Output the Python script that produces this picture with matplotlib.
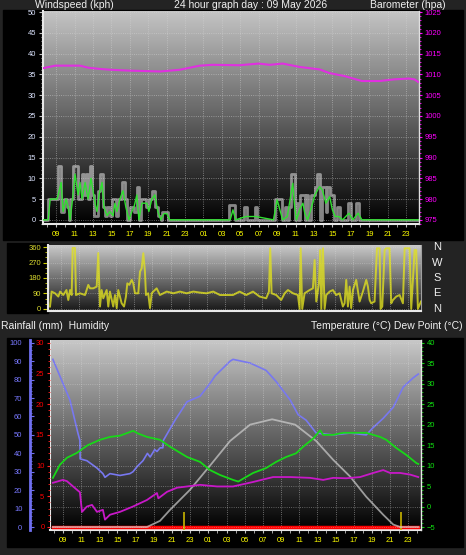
import numpy as np
import matplotlib
matplotlib.use("Agg")
import matplotlib.pyplot as plt
from matplotlib.patches import Rectangle
from matplotlib.colors import LinearSegmentedColormap
from matplotlib.ticker import MultipleLocator, FixedLocator

W, H, DPI = 466, 555, 100
plt.rcParams['font.family'] = ['Liberation Sans', 'DejaVu Sans']

# hours since midnight of the first day (24 = 00 next day)
X0, X1 = 7.58, 48.4
tick_hours = [9, 11, 13, 15, 17, 19, 21, 23, 25, 27, 29, 31, 33, 35, 37, 39, 41, 43, 45, 47]
tick_labels = ["09", "11", "13", "15", "17", "19", "21", "23", "01", "03",
               "05", "07", "09", "11", "13", "15", "17", "19", "21", "23"]

# barometer (hpa)
baro_h = [7.6, 8.9, 11.6, 12.5, 13.8, 15.0, 17.0, 20.3, 22.4, 24.6, 26.0, 28.9, 31.0,
          32.2, 33.6, 35.4, 37.6, 38.7, 40.3, 42.2, 44.1, 45.7, 47.3, 47.9, 48.3]
baro_v = [1011.5, 1012.1, 1012.1, 1011.6, 1011.3, 1011.1, 1010.9, 1010.7, 1011.1, 1012.1,
          1012.3, 1012.2, 1012.6, 1012.3, 1012.6, 1011.8, 1011.2, 1010.3, 1009.6, 1008.4,
          1008.4, 1008.8, 1009.0, 1008.8, 1008.2]

# gust (kph), step values
gust_h = [7.6, 8.1, 9.2, 9.5, 9.9, 10.2, 10.35, 10.55, 10.8, 11.35, 11.8, 12.05, 12.3, 12.5,
          12.65, 12.9, 13.1, 13.5, 13.8, 14.1, 14.3, 14.5, 14.8, 15.1, 15.5, 15.7, 16.2, 16.45,
          16.75, 17.0, 17.5, 17.75, 17.95, 18.2, 18.8, 19.1, 19.4, 19.7, 20.1, 20.35, 20.55,
          21.15, 27.8, 28.4, 29.4, 29.7, 30.6, 30.85, 32.75, 33.5, 33.8, 34.1, 34.3, 34.5,
          34.95, 35.1, 35.3, 35.5, 36.0, 36.15, 36.35, 36.7, 37.1, 37.35, 37.7, 37.85, 38.25,
          38.4, 38.7, 39.2, 39.45, 39.8, 40.7, 41.05, 41.6, 41.9, 48.4]
gust_v = [0, 5, 13, 2, 5, 3, 0, 5, 13, 5, 11, 6, 11, 5,
          13, 6, 1, 7, 11, 3, 1, 3, 1, 5, 1, 5, 9, 5,
          0, 3, 2, 8, 0, 5, 3, 5, 7, 3, 1, 0, 2,
          0, 3.5, 0, 3, 0, 3, 0, 5, 0, 3, 0, 3, 11,
          0, 4, 0, 6, 0, 6, 0, 6, 8, 11, 0, 8, 2,
          8, 6, 0, 3, 0, 4, 0, 4, 0, 0]

# wind speed (kph)
wind_h = [7.6, 8.14, 8.36, 9.12, 9.55, 9.76, 10.09, 10.31, 10.52, 10.74, 11.06, 11.39, 11.6,
          11.82, 12.15, 12.47, 12.79, 13.23, 13.44, 13.66, 13.99, 14.2, 14.53, 14.85, 15.18,
          15.39, 15.61, 15.93, 16.26, 16.58, 16.91, 17.23, 17.45, 17.77, 17.99, 18.31, 18.86,
          19.07, 19.4, 19.72, 20.05, 20.37, 20.7, 21.02, 21.34,
          27.9, 28.2, 28.5, 29.6, 30.7, 32.6, 33.0, 33.3, 33.6, 34.1, 34.7, 34.9, 35.1, 35.5,
          35.8, 36.0, 36.3, 36.7, 37.1, 37.6, 37.9, 38.3, 38.7, 39.0, 39.3, 39.7, 40.1, 40.8,
          41.2, 41.8, 42.2, 48.4]
wind_v = [0, 0, 5, 5, 9, 2, 5, 3, 0, 4, 11, 6, 9,
          5, 9, 5, 10, 4, 2, 6, 9, 3, 1, 2, 1,
          4, 2, 5, 7, 3, 0, 2, 3, 6, 0, 4, 4,
          2, 5, 6, 2, 0, 1.5, 1.5, 0,
          0, 2.4, 0, 0.8, 0.8, 0, 4.8, 2.4, 0, 0.8, 8.8, 3.2, 0, 2.8,
          4, 1.6, 0, 2.8, 6.0, 8.0, 7.2, 4, 5.6, 2.4, 0.8, 0.8, 0, 1.6,
          0, 1.6, 0, 0]

# wind direction (deg)
dir_h = [7.8, 7.98, 8.35, 8.71, 8.9, 9.25, 9.6, 9.8, 9.99, 10.17, 10.28, 10.53, 10.64, 11.08,
         11.63, 11.99, 12.18, 12.54, 12.91, 13.08, 13.27, 13.45, 13.63, 14.0, 14.18, 14.36,
         14.72, 14.91, 15.1, 15.27, 15.64, 15.9, 16.11, 16.26, 16.48, 16.74, 16.91, 17.1,
         17.46, 17.65, 17.83, 18.01, 18.19, 18.3, 18.55, 18.74, 18.93, 19.1, 19.47, 19.83,
         20.2, 20.57, 21.29, 22.02, 22.75, 23.48, 24.21, 24.94, 25.66, 26.04, 26.4, 27.82,
         28.55, 29.28, 30.01, 30.74, 31.46, 31.76, 31.9, 32.05, 32.56, 33.1, 33.48, 33.84,
         34.39, 34.93, 35.12, 35.23, 35.4, 35.66, 36.21, 36.57, 36.76, 36.94, 37.23, 37.38,
         37.49, 37.67, 37.85, 38.03, 38.4, 38.76, 39.12, 39.49, 39.85, 40.04, 40.22, 40.4,
         40.59, 40.76, 40.95, 41.31, 41.68, 42.04, 42.41, 42.59, 42.78, 42.95, 43.32, 43.58,
         43.87, 43.98, 44.16, 44.42, 44.59, 44.96, 45.14, 45.33, 45.69, 46.06, 46.42, 46.61,
         47.15, 47.33, 47.7, 47.88, 48.06, 48.39]
dir_v = [14, 101, 91, 72, 101, 81, 110, 52, 110, 81, 355, 355, 81, 91,
         81, 140, 120, 120, 130, 325, 14, 110, 62, 110, 14, 101,
         14, 81, 5, 110, 33, 14, 72, 149, 140, 169, 149, 91,
         91, 217, 236, 324, 217, 81, 91, 5, 91, 101, 120, 81,
         91, 101, 91, 101, 91, 101, 95, 91, 101, 91, 81, 81,
         101, 81, 101, 72, 62, 101, 353, 91, 81, 52, 91, 110,
         91, 81, 0, 353, 0, 91, 110, 120, 285, 43, 149, 343,
         0, 353, 0, 81, 101, 110, 81, 91, 14, 33, 169, 14,
         130, 5, 110, 169, 43, 101, 169, 130, 52, 33, 43, 353,
         353, 0, 14, 343, 353, 353, 33, 52, 72, 81, 33, 353,
         353, 0, 343, 343, 0, 43]

# humidity (%)
hum_h = [7.9, 9.0, 9.77, 10.65, 10.87, 10.9, 11.64, 12.2, 12.75, 13.4, 13.63, 14.18, 15.28,
         16.38, 16.71, 17.2, 17.81, 18.3, 18.6, 19.1, 19.35, 19.7, 20.0, 20.05, 21.34, 22.66,
         24.09, 25.19, 25.74, 27.39, 27.72, 29.6, 31.36, 32.46, 34.0, 34.88, 35.76, 36.87,
         38.74, 40.61, 42.37, 43.14, 44.24, 45.35, 46.45, 47.55, 48.1]
hum_v = [91, 78, 69, 51, 47, 37, 36, 34, 32, 29, 27, 29, 28,
         29, 30, 33, 36, 40, 38, 42, 41, 43, 43, 47, 58, 68,
         71, 78, 82, 90, 91, 89, 85, 79, 69, 61, 58, 51,
         50, 51, 50, 54, 59, 65, 76, 81, 83]

# temperature (C)
temp_h = [7.9, 8.67, 9.44, 10.54, 11.1, 11.75, 13.08, 14.18, 15.28, 16.38, 16.71, 17.3, 18.25,
          19.68, 20.79, 22.66, 24.09, 25.19, 26.29, 27.72, 28.3, 28.83, 29.93, 31.36, 32.46,
          33.56, 34.66, 35.43, 36.54, 37.3, 37.64, 38.74, 39.84, 42.37, 43.91, 44.57, 45.68,
          46.78, 47.9, 48.1]
temp_v = [7.0, 10.2, 11.9, 13.1, 14.0, 15.0, 16.3, 17.0, 17.3, 18.2, 18.5, 17.8, 17.0,
          16.3, 14.6, 12.1, 10.9, 8.9, 7.7, 6.5, 6.1, 6.8, 8.2, 9.4, 10.9,
          12.1, 13.0, 14.6, 16.6, 18.6, 17.5, 17.5, 18.0, 18.0, 17.0, 16.3, 14.3,
          12.6, 10.6, 10.4]

# dew point (C)
dew_h = [7.9, 9.0, 9.44, 10.54, 10.87, 11.1, 11.64, 12.2, 12.75, 13.4, 13.63, 14.18, 15.28,
         16.71, 18.25, 19.35, 19.5, 20.46, 21.56, 22.66, 24.09, 25.96, 27.72, 29.93, 32.13,
         34.0, 36.2, 37.64, 38.74, 40.17, 41.7, 43.14, 44.24, 45.0, 46.1, 47.2, 48.1]
dew_v = [5.8, 6.5, 6.2, 4.1, 3.5, -1.3, 0.0, 0.4, -1.3, -0.8, -3.2, -2.0, -1.3,
         0.0, 1.6, 3.3, 2.0, 3.6, 4.6, 4.9, 5.3, 4.9, 4.9, 6.0, 7.2,
         7.2, 7.0, 6.5, 7.0, 6.9, 7.2, 8.2, 8.9, 8.2, 8.2, 7.8, 7.2]

# pale bell curve on the temperature scale
bell_h = [7.9, 18.25, 19.68, 20.79, 22.99, 25.19, 27.39, 29.6, 32.02, 34.55, 36.87, 38.74,
          40.61, 42.37, 44.24, 45.35, 46.1, 48.1]
bell_v = [-5, -5, -3.5, -0.8, 4.1, 10.0, 16.0, 20.0, 21.3, 20.0, 16.0, 11.4,
          7.3, 2.4, -2.0, -4.4, -5, -5]

# rainfall (mm)
rain_h = [7.9, 48.1]
rain_v = [0, 0]
rain_mark_h = [22.3, 46.2]
rain_mark_v = [2.4, 2.4]

compass = ["N", "W", "S", "E", "N"]
compass_deg = [360, 270, 180, 90, 0]

fig = plt.figure(figsize=(W / DPI, H / DPI), dpi=DPI, facecolor='#232323')


def px_axes(x0, y0, x1, y1):
    return fig.add_axes([x0 / W, 1 - y1 / H, (x1 - x0) / W, (y1 - y0) / H])


def black_box(x0, y0, x1, y1):
    fig.add_artist(Rectangle((x0 / W, 1 - y1 / H), (x1 - x0) / W, (y1 - y0) / H,
                             transform=fig.transFigure, color='black', zorder=-1))


def gradient(ax, top, bottom):
    g = np.linspace(0, 1, 256).reshape(-1, 1)
    cmap = LinearSegmentedColormap.from_list('bg', [bottom, top])
    ax.imshow(g, aspect='auto', cmap=cmap, extent=[0, 1, 0, 1], origin='lower',
              transform=ax.transAxes, zorder=0, interpolation='bilinear')


def style_x(ax, labels=True):
    ax.set_xlim(X0, X1)
    ax.xaxis.set_major_locator(FixedLocator(tick_hours))
    ax.xaxis.set_minor_locator(MultipleLocator(1))
    if labels:
        ax.set_xticklabels(tick_labels)
    else:
        ax.set_xticklabels([])
    ax.tick_params(axis='x', which='both', colors='#c0c0c0', labelcolor='#ffff00',
                   labelsize=5.5, length=2, pad=3)
    ax.xaxis.grid(True, linestyle=':', color='#d8d8d8', linewidth=0.6, alpha=0.6)


def frame(ax):
    for s in ('top', 'right'):
        ax.spines[s].set_visible(False)
    for s in ('left', 'bottom'):
        ax.spines[s].set_color('#e8e8e8')
        ax.spines[s].set_linewidth(1.5)
    ax.set_facecolor('none')


# ---------- panel 1: wind speed + barometer ----------
black_box(3, 10, 463, 240)
ax1 = px_axes(43, 11, 419, 224)
gradient(ax1, '#c4c4c4', '#000000')
frame(ax1)
ax1.step(gust_h, gust_v, where='post', color='#d8d8d8', lw=2.0, alpha=0.6, zorder=3)
ax1.plot(wind_h, wind_v, color='#30e030', lw=1.0, zorder=4)
style_x(ax1)
ax1.set_ylim(-1, 50.25)
ax1.yaxis.set_major_locator(MultipleLocator(5))
ax1.yaxis.set_minor_locator(MultipleLocator(1))
ax1.tick_params(axis='y', which='both', colors='#c0c0c0', labelcolor='#dce4ff',
                labelsize=5.5, pad=2)
ax1.tick_params(axis='y', which='major', length=3)
ax1.tick_params(axis='y', which='minor', length=1.5)
ax1.yaxis.grid(True, linestyle=':', color='#d8d8d8', linewidth=0.6, alpha=0.6)

ax1b = ax1.twinx()
ax1b.plot(baro_h, baro_v, color='#e030e0', lw=1.5, zorder=5)
ax1b.set_ylim(974, 1025.25)
ax1b.yaxis.set_major_locator(MultipleLocator(5))
ax1b.yaxis.set_minor_locator(MultipleLocator(1))
ax1b.tick_params(axis='y', which='both', colors='#ff00ff', labelcolor='#ff00ff',
                 labelsize=5.5, pad=1.5)
ax1b.tick_params(axis='y', which='major', length=2.5)
ax1b.tick_params(axis='y', which='minor', length=1.2)
for s in ('top', 'left', 'bottom'):
    ax1b.spines[s].set_visible(False)
ax1b.spines['right'].set_color('#e0e0e0')
ax1b.spines['right'].set_linewidth(1.0)

fig.text(35 / W, 1 - 8.5 / H, "Windspeed (kph)", color='#f0f0f0', fontsize=7.5,
         ha='left', va='baseline')
fig.text(251 / W, 1 - 8.5 / H, "24 hour graph day : 09 May 2026", color='#f0f0f0',
         fontsize=7.5, ha='center', va='baseline')
fig.text(446 / W, 1 - 8.0 / H, "Barometer (hpa)", color='#f0f0f0', fontsize=7.5,
         ha='right', va='baseline')

# ---------- panel 2: wind direction ----------
black_box(7, 243, 48, 313)
ax2 = px_axes(48, 245, 421, 311)
gradient(ax2, '#cccccc', '#181818')
frame(ax2)
ax2.spines['right'].set_visible(True)
ax2.spines['right'].set_color('#a0a0a0')
ax2.plot(dir_h, dir_v, color='#e0e020', lw=1.4, alpha=0.8, zorder=3)
style_x(ax2, labels=False)
ax2.tick_params(axis='x', which='both', length=0)
ax2.set_ylim(-12, 372)
ax2.yaxis.set_major_locator(MultipleLocator(90))
ax2.yaxis.set_minor_locator(MultipleLocator(30))
ax2.tick_params(axis='y', which='both', colors='#d0d000', labelcolor='#dcdc30',
                labelsize=5.5, pad=1.5)
ax2.tick_params(axis='y', which='major', length=3.5)
ax2.tick_params(axis='y', which='minor', length=2)
ax2.yaxis.grid(True, linestyle=':', color='#d8d8d8', linewidth=0.6, alpha=0.5)
for lab, d in zip(compass, compass_deg):
    ax2.text(1.043, d, lab, transform=ax2.get_yaxis_transform(), color='#f0f0f0',
             fontsize=8, ha='center', va='center')

fig.text(1 / W, 1 - 329 / H, "Rainfall (mm)  Humidity", color='#f0f0f0', fontsize=7.5,
         ha='left', va='baseline')
fig.text(463 / W, 1 - 329 / H, "Temperature (\u00b0C) Dew Point (\u00b0C)", color='#f0f0f0',
         fontsize=7.5, ha='right', va='baseline')

# ---------- panel 3: humidity, rain, temperature, dew point ----------
black_box(7, 338, 463, 547)
ax3 = px_axes(50, 340, 421, 530)
gradient(ax3, '#c8c8c8', '#000000')
frame(ax3)
ax3.spines['left'].set_position(('outward', 14.4))
ax3.spines['left'].set_color('#7070f0')
ax3.spines['left'].set_linewidth(2.0)
ax3.plot(hum_h, hum_v, color='#7878f0', lw=1.2, zorder=3)
style_x(ax3)
ax3.set_ylim(-1.6, 101.5)
ax3.yaxis.set_major_locator(MultipleLocator(10))
ax3.yaxis.set_minor_locator(MultipleLocator(2))
ax3.tick_params(axis='y', which='both', direction='in', colors='#7070f0',
                labelcolor='#7878ff', labelsize=5.5, pad=5.5)
ax3.tick_params(axis='y', which='major', length=3)
ax3.tick_params(axis='y', which='minor', length=1.5)
# plot edge line where the rain scale sits
ax3.axvline(X0, color='#e8e8e8', lw=1.5, zorder=6)

ax3r = ax3.twinx()
ax3r.yaxis.set_ticks_position('left')
ax3r.yaxis.set_label_position('left')
for s in ('top', 'right', 'bottom'):
    ax3r.spines[s].set_visible(False)
ax3r.spines['left'].set_visible(False)
ax3r.plot(rain_h, rain_v, color='#ff0000', lw=2.5, zorder=3)
ax3r.vlines(rain_mark_h, -0.5, rain_mark_v, color='#c8b400', lw=1.2, zorder=4)
ax3r.set_ylim(-0.5, 30.44)
ax3r.yaxis.set_major_locator(MultipleLocator(5))
ax3r.yaxis.set_minor_locator(MultipleLocator(1))
ax3r.tick_params(axis='y', which='both', colors='#ff2020', labelcolor='#ff0000',
                 labelsize=5.5, pad=1.5)
ax3r.tick_params(axis='y', which='major', length=2.5)
ax3r.tick_params(axis='y', which='minor', length=1.2)

ax3t = ax3.twinx()
for s in ('top', 'left', 'bottom'):
    ax3t.spines[s].set_visible(False)
ax3t.spines['right'].set_color('#e8e8e8')
ax3t.spines['right'].set_linewidth(1.0)
ax3t.plot(bell_h, bell_v, color='#d0d0d0', lw=1.3, alpha=0.7, zorder=3)
ax3t.plot(temp_h, temp_v, color='#18d818', lw=1.3, zorder=4)
ax3t.plot(dew_h, dew_v, color='#c818c8', lw=1.3, zorder=4)
ax3t.set_ylim(-5.73, 40.66)
ax3t.yaxis.set_major_locator(MultipleLocator(5))
ax3t.yaxis.set_minor_locator(MultipleLocator(1))
ax3t.tick_params(axis='y', which='both', colors='#10d010', labelcolor='#10e010',
                 labelsize=5.5, pad=1.5)
ax3t.tick_params(axis='y', which='major', length=2.5)
ax3t.tick_params(axis='y', which='minor', length=1.2)
ax3t.yaxis.grid(True, linestyle=':', color='#d8d8d8', linewidth=0.6, alpha=0.5)

fig.savefig("out.png", dpi=DPI, facecolor=fig.get_facecolor())
